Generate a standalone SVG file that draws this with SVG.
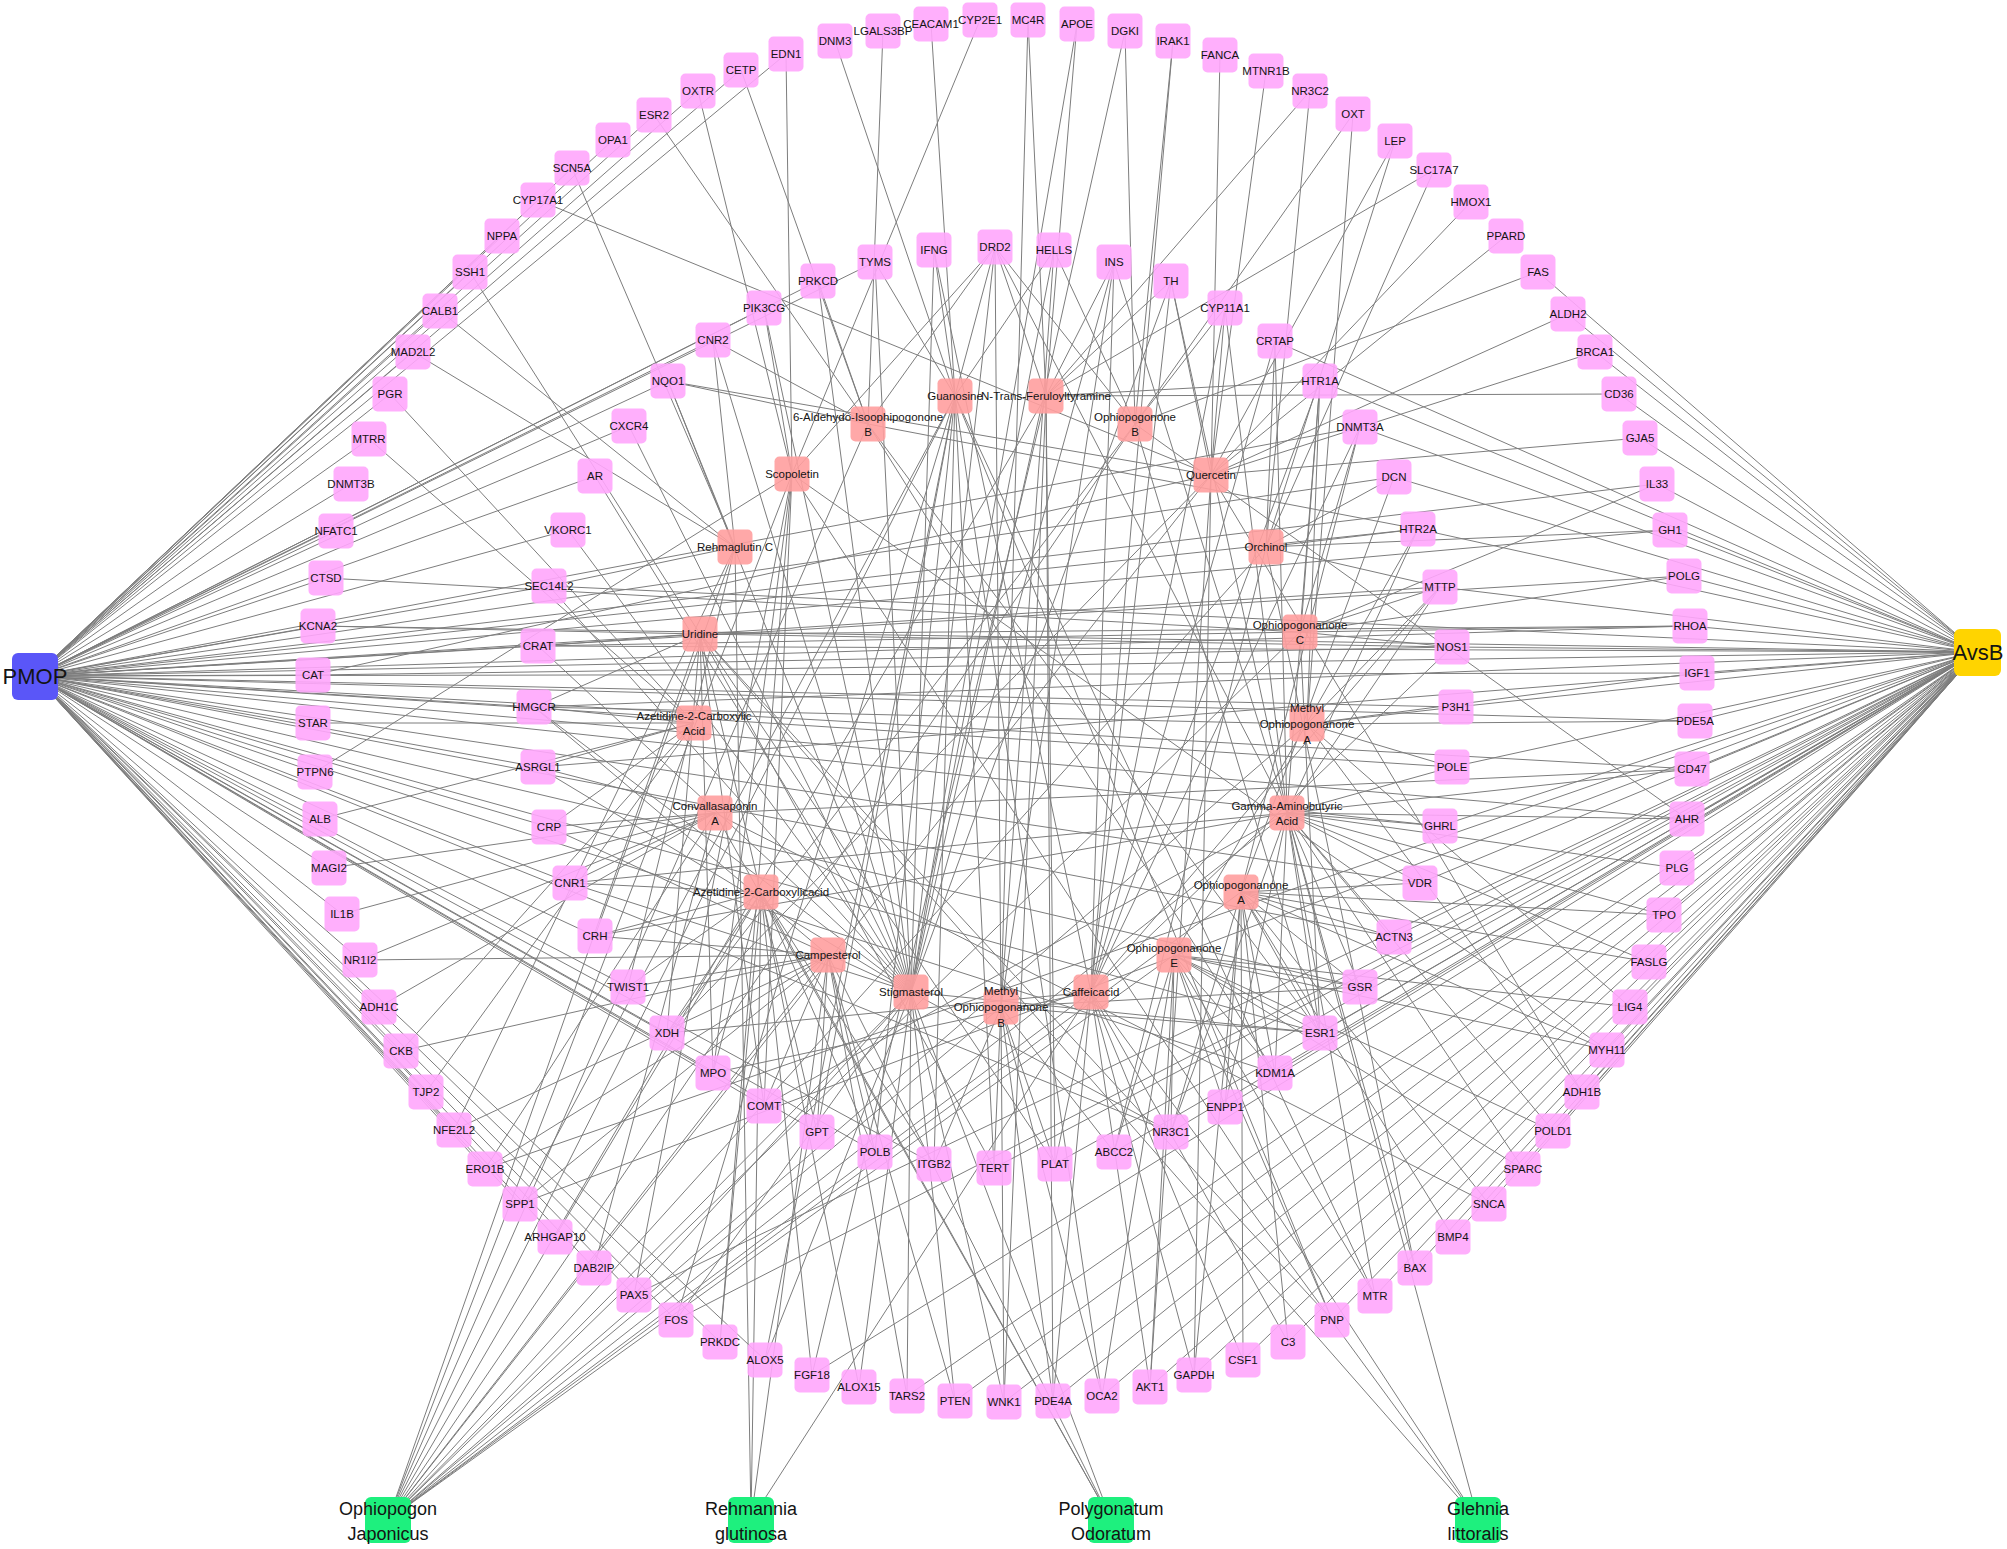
<svg xmlns="http://www.w3.org/2000/svg" width="2007" height="1549" viewBox="0 0 2007 1549">
<style>
.e{stroke:#7d7d7d;stroke-width:1;fill:none}
.t rect{fill:#FFA6FC;fill-opacity:.9}
.c rect{fill:#FF9E9E;fill-opacity:.9}
text{font-family:"Liberation Sans",Arial,sans-serif;font-size:11.5px;fill:#141414;text-anchor:middle}
.big{font-size:22px}
.herb{font-size:18px}
</style>
<rect width="2007" height="1549" fill="#fff"/>
<g id="connectors">
<path class="e" d="M35 676L786 54M35 676L741 70M35 676L698 91M35 676L654 115M35 676L613 140M35 676L572 168M35 676L538 200M35 676L502 236M35 676L470 272M35 676L440 311M35 676L413 352M35 676L390 394M35 676L369 439M35 676L351 484M35 676L336 531M35 676L326 578M35 676L318 626M35 676L313 675M35 676L313 723M35 676L315 772M35 676L320 819M35 676L329 868M35 676L342 914M35 676L360 960M35 676L379 1007M35 676L401 1051M35 676L426 1092M35 676L454 1130M35 676L485 1169M35 676L520 1204M35 676L555 1237M35 676L594 1268M35 676L634 1295M35 676L676 1320M35 676L720 1342M35 676L765 1360M35 676L764 308M35 676L713 340M35 676L668 381M35 676L629 426M35 676L595 476M35 676L568 530M35 676L549 586M35 676L538 646M35 676L534 707M35 676L538 767M35 676L549 827M35 676L570 883M35 676L595 936M35 676L628 987M35 676L667 1033M35 676L713 1073M35 676L764 1106M35 676L817 1132M35 676L818 281M35 676L875 262M35 676L1418 529M35 676L1440 587M35 676L1452 647M35 676L1456 707M35 676L1452 767M35 676L1440 826M35 676L1420 883M35 676L1690 626M35 676L1697 673M35 676L1684 576M35 676L1670 530M35 676L1695 721M35 676L1692 769M35 676L1394 477M35 676L1394 937M35 676L1360 987M35 676L1320 1033M35 676L1275 1073M35 676L1171 1132M35 676L875 1152M35 676L934 1164M35 676L1360 427M35 676L1687 819M35 676L1657 484"/>
<path class="e" d="M1977 652L1538 272M1977 652L1568 314M1977 652L1595 352M1977 652L1619 394M1977 652L1640 438M1977 652L1657 484M1977 652L1670 530M1977 652L1684 576M1977 652L1690 626M1977 652L1697 673M1977 652L1695 721M1977 652L1692 769M1977 652L1687 819M1977 652L1677 868M1977 652L1664 915M1977 652L1649 962M1977 652L1630 1007M1977 652L1607 1050M1977 652L1582 1092M1977 652L1553 1131M1977 652L1523 1169M1977 652L1489 1204M1977 652L1453 1237M1977 652L1415 1268M1977 652L1375 1296M1977 652L1332 1320M1977 652L1288 1342M1977 652L1243 1360M1977 652L1194 1375M1977 652L1150 1387M1977 652L1102 1396M1977 652L1053 1401M1977 652L1004 1402M1977 652L955 1401M1977 652L907 1396M1977 652L812 1375M1977 652L676 1320M1977 652L634 1295M1977 652L520 1204M1977 652L485 1169M1977 652L1275 341M1977 652L1320 381M1977 652L1360 427M1977 652L1394 477M1977 652L1418 529M1977 652L1440 587M1977 652L1452 647M1977 652L1456 707M1977 652L1452 767M1977 652L1440 826M1977 652L1420 883M1977 652L1394 937M1977 652L1360 987M1977 652L1320 1033M1977 652L1275 1073M1977 652L1225 1107M1977 652L1171 1132M1977 652L1114 1152M1977 652L1055 1164M1977 652L994 1168M1977 652L538 646M1977 652L534 707M1977 652L549 586M1977 652L318 626M1977 652L313 675M1977 652L538 767"/>
<path class="e" d="M955 396L995 247M955 396L1054 250M955 396L934 250M955 396L875 262M955 396L835 41M955 396L931 24M955 396L875 1152M955 396L934 1164M955 396L994 1168M955 396L1332 1320M955 396L1102 1396M955 396L1375 1296M955 396L765 1360M955 396L676 1320M955 396L817 1132M955 396L520 1204"/>
<path class="e" d="M1046 396L995 247M1046 396L1028 20M1046 396L1077 24M1046 396L1320 381M1046 396L1171 281M1046 396L1114 262M1046 396L1055 1164M1046 396L1004 1402M1046 396L1053 1401M1046 396L1619 394M1046 396L1434 170M1046 396L1310 91M1046 396L812 1375"/>
<path class="e" d="M868 424L818 281M868 424L883 31M868 424L713 340M868 424L668 381M868 424L1320 1033M868 424L1275 1073M868 424L1418 529M868 424L654 115M868 424L741 70M868 424L995 247"/>
<path class="e" d="M1135 424L1125 31M1135 424L1054 250M1135 424L1353 114M1135 424L1173 41M1135 424L1320 1033M1135 424L1225 308M1135 424L1687 819M1135 424L1538 272M1135 424L667 1033M1135 424L995 247"/>
<path class="e" d="M792 474L764 308M792 474L698 91M792 474L786 54M792 474L713 1073M792 474L764 1106M792 474L634 1295M792 474L995 247M792 474L980 20M792 474L1607 1050M792 474L315 772M792 474L720 1342"/>
<path class="e" d="M1211 475L1171 281M1211 475L1225 308M1211 475L1395 141M1211 475L1471 202M1211 475L1506 236M1211 475L1568 314M1211 475L1595 352M1211 475L1640 438M1211 475L667 1033M1211 475L1150 1387M1211 475L313 675M1211 475L668 381M1211 475L538 200M1211 475L1220 55M1211 475L1266 71M1211 475L1194 1375M1211 475L1582 1092"/>
<path class="e" d="M735 547L713 340M735 547L549 586M735 547L668 381M735 547L413 352M735 547L440 311M735 547L595 936M735 547L628 987M735 547L454 1130M735 547L572 168"/>
<path class="e" d="M1266 547L1275 341M1266 547L1394 477M1266 547L1418 529M1266 547L1440 587M1266 547L1670 530M1266 547L1395 141M1266 547L1310 91M1266 547L1114 1152M1266 547L1415 1268M1266 547L1434 170"/>
<path class="e" d="M700 634L538 646M700 634L534 707M700 634L667 1033M700 634L713 1073M700 634L994 1168M700 634L1055 1164M700 634L764 1106M700 634L817 1132M700 634L1332 1320M700 634L470 272M700 634L318 626M700 634L1452 647M700 634L1690 626"/>
<path class="e" d="M1300 632L1452 647M1300 632L1440 587M1300 632L1690 626M1300 632L1684 576M1300 632L1657 484M1300 632L1360 427M1300 632L538 646M1300 632L326 578M1300 632L1320 1033M1300 632L1320 381"/>
<path class="e" d="M694 723L534 707M694 723L538 767M694 723L549 827M694 723L313 723M694 723L426 1092M694 723L401 1051M694 723L320 819M694 723L390 394M694 723L369 439"/>
<path class="e" d="M1307 724L1456 707M1307 724L1452 767M1307 724L1440 587M1307 724L1697 673M1307 724L1695 721M1307 724L1320 381M1307 724L1353 114M1307 724L1582 1092M1307 724L1630 1007M1307 724L534 707"/>
<path class="e" d="M715 813L549 827M715 813L570 883M715 813L538 767M715 813L342 914M715 813L329 868M715 813L379 1007M715 813L360 960M715 813L485 1169M715 813L594 1268M715 813L1489 1204M715 813L1692 769"/>
<path class="e" d="M1287 813L1440 826M1287 813L1420 883M1287 813L1394 937M1287 813L1360 987M1287 813L1452 767M1287 813L1440 587M1287 813L1692 769M1287 813L1687 819M1287 813L1677 868M1287 813L1664 915M1287 813L1649 962M1287 813L1320 381M1287 813L1418 529M1287 813L995 247M1287 813L1275 341M1287 813L1225 308M1287 813L1320 1033M1287 813L1275 1073M1287 813L1225 1107M1287 813L1171 1132M1287 813L1415 1268M1287 813L1375 1296M1287 813L1553 1131M1287 813L1523 1169M1287 813L570 883M1287 813L764 1106M1287 813L595 936M1287 813L1171 281M1287 813L1114 262"/>
<path class="e" d="M761 892L570 883M761 892L595 936M761 892L628 987M761 892L667 1033M761 892L713 1073M761 892L555 1237M761 892L720 1342M761 892L812 1375M761 892L859 1387M761 892L934 1164M761 892L875 1152"/>
<path class="e" d="M1241 892L1420 883M1241 892L1394 937M1241 892L1360 987M1241 892L1320 1033M1241 892L1275 1073M1241 892L1225 1107M1241 892L1171 1132M1241 892L1243 1360M1241 892L1288 1342M1241 892L1194 1375M1241 892L1489 1204M1241 892L1453 1237M1241 892L1649 962M1241 892L1664 915M1241 892L1360 427M1241 892L1394 477M1241 892L1607 1050"/>
<path class="e" d="M828 955L595 936M828 955L628 987M828 955L534 707M828 955L360 960M828 955L454 1130M828 955L485 1169M828 955L520 1204M828 955L764 1106M828 955L817 1132M828 955L875 1152M828 955L955 1401M828 955L907 1396M828 955L401 1051"/>
<path class="e" d="M1174 955L1320 1033M1174 955L1360 987M1174 955L1171 1132M1174 955L1225 1107M1174 955L1275 1073M1174 955L1114 1152M1174 955L1150 1387M1174 955L1102 1396M1174 955L1375 1296M1174 955L1332 1320M1174 955L1523 1169M1174 955L1553 1131M1174 955L1607 1050M1174 955L1418 529M1174 955L1630 1007"/>
<path class="e" d="M911 992L995 247M911 992L1054 250M911 992L934 250M911 992L875 262M911 992L818 281M911 992L764 308M911 992L713 340M911 992L668 381M911 992L629 426M911 992L595 476M911 992L568 530M911 992L549 586M911 992L538 646M911 992L534 707M911 992L538 767M911 992L549 827M911 992L570 883M911 992L1171 1132M911 992L1320 1033M911 992L955 1401M911 992L1004 1402M911 992L907 1396M911 992L859 1387M911 992L765 1360M911 992L676 1320M911 992L634 1295M911 992L1114 262M911 992L1171 281M911 992L1125 31M911 992L1077 24"/>
<path class="e" d="M1001 1007L995 247M1001 1007L1054 250M1001 1007L1114 262M1001 1007L994 1168M1001 1007L1055 1164M1001 1007L1114 1152M1001 1007L934 1164M1001 1007L1004 1402M1001 1007L1053 1401M1001 1007L1102 1396M1001 1007L1320 1033M1001 1007L1360 987M1001 1007L1028 20"/>
<path class="e" d="M1091 992L1114 262M1091 992L1171 281M1091 992L1225 308M1091 992L1275 341M1091 992L1320 381M1091 992L1360 427M1091 992L1150 1387M1091 992L1194 1375M1091 992L1243 1360M1091 992L1288 1342M1091 992L1053 1401M1091 992L1055 1164M1091 992L667 1033M1091 992L713 1073M1091 992L1440 587M1091 992L1452 647M1091 992L934 250M1091 992L1173 41"/>
<path class="e" d="M388 1520L868 424M388 1520L1135 424M388 1520L955 396M388 1520L1046 396M388 1520L792 474M388 1520L1211 475M388 1520L1266 547M388 1520L1300 632M388 1520L1307 724M388 1520L1287 813M388 1520L1241 892M388 1520L828 955M388 1520L1174 955M388 1520L911 992M388 1520L1001 1007M388 1520L1091 992M388 1520L700 634"/>
<path class="e" d="M751 1520L735 547M751 1520L828 955M751 1520L1091 992M751 1520L761 892"/>
<path class="e" d="M1111 1520L911 992M1111 1520L828 955M1111 1520L715 813M1111 1520L761 892"/>
<path class="e" d="M1478 1520L1287 813M1478 1520L1091 992M1478 1520L792 474M1478 1520L700 634"/>
</g>
<g id="targets">
<g id="t-DNM3" class="t" transform="translate(835 41)"><rect x="-17.5" y="-17.5" width="35" height="35" rx="5"/><text y="4">DNM3</text></g>
<g id="t-LGALS3BP" class="t" transform="translate(883 31)"><rect x="-17.5" y="-17.5" width="35" height="35" rx="5"/><text y="4">LGALS3BP</text></g>
<g id="t-CEACAM1" class="t" transform="translate(931 24)"><rect x="-17.5" y="-17.5" width="35" height="35" rx="5"/><text y="4">CEACAM1</text></g>
<g id="t-CYP2E1" class="t" transform="translate(980 20)"><rect x="-17.5" y="-17.5" width="35" height="35" rx="5"/><text y="4">CYP2E1</text></g>
<g id="t-MC4R" class="t" transform="translate(1028 20)"><rect x="-17.5" y="-17.5" width="35" height="35" rx="5"/><text y="4">MC4R</text></g>
<g id="t-APOE" class="t" transform="translate(1077 24)"><rect x="-17.5" y="-17.5" width="35" height="35" rx="5"/><text y="4">APOE</text></g>
<g id="t-DGKI" class="t" transform="translate(1125 31)"><rect x="-17.5" y="-17.5" width="35" height="35" rx="5"/><text y="4">DGKI</text></g>
<g id="t-IRAK1" class="t" transform="translate(1173 41)"><rect x="-17.5" y="-17.5" width="35" height="35" rx="5"/><text y="4">IRAK1</text></g>
<g id="t-FANCA" class="t" transform="translate(1220 55)"><rect x="-17.5" y="-17.5" width="35" height="35" rx="5"/><text y="4">FANCA</text></g>
<g id="t-MTNR1B" class="t" transform="translate(1266 71)"><rect x="-17.5" y="-17.5" width="35" height="35" rx="5"/><text y="4">MTNR1B</text></g>
<g id="t-NR3C2" class="t" transform="translate(1310 91)"><rect x="-17.5" y="-17.5" width="35" height="35" rx="5"/><text y="4">NR3C2</text></g>
<g id="t-OXT" class="t" transform="translate(1353 114)"><rect x="-17.5" y="-17.5" width="35" height="35" rx="5"/><text y="4">OXT</text></g>
<g id="t-LEP" class="t" transform="translate(1395 141)"><rect x="-17.5" y="-17.5" width="35" height="35" rx="5"/><text y="4">LEP</text></g>
<g id="t-SLC17A7" class="t" transform="translate(1434 170)"><rect x="-17.5" y="-17.5" width="35" height="35" rx="5"/><text y="4">SLC17A7</text></g>
<g id="t-HMOX1" class="t" transform="translate(1471 202)"><rect x="-17.5" y="-17.5" width="35" height="35" rx="5"/><text y="4">HMOX1</text></g>
<g id="t-PPARD" class="t" transform="translate(1506 236)"><rect x="-17.5" y="-17.5" width="35" height="35" rx="5"/><text y="4">PPARD</text></g>
<g id="t-FAS" class="t" transform="translate(1538 272)"><rect x="-17.5" y="-17.5" width="35" height="35" rx="5"/><text y="4">FAS</text></g>
<g id="t-ALDH2" class="t" transform="translate(1568 314)"><rect x="-17.5" y="-17.5" width="35" height="35" rx="5"/><text y="4">ALDH2</text></g>
<g id="t-BRCA1" class="t" transform="translate(1595 352)"><rect x="-17.5" y="-17.5" width="35" height="35" rx="5"/><text y="4">BRCA1</text></g>
<g id="t-CD36" class="t" transform="translate(1619 394)"><rect x="-17.5" y="-17.5" width="35" height="35" rx="5"/><text y="4">CD36</text></g>
<g id="t-GJA5" class="t" transform="translate(1640 438)"><rect x="-17.5" y="-17.5" width="35" height="35" rx="5"/><text y="4">GJA5</text></g>
<g id="t-IL33" class="t" transform="translate(1657 484)"><rect x="-17.5" y="-17.5" width="35" height="35" rx="5"/><text y="4">IL33</text></g>
<g id="t-GH1" class="t" transform="translate(1670 530)"><rect x="-17.5" y="-17.5" width="35" height="35" rx="5"/><text y="4">GH1</text></g>
<g id="t-POLG" class="t" transform="translate(1684 576)"><rect x="-17.5" y="-17.5" width="35" height="35" rx="5"/><text y="4">POLG</text></g>
<g id="t-RHOA" class="t" transform="translate(1690 626)"><rect x="-17.5" y="-17.5" width="35" height="35" rx="5"/><text y="4">RHOA</text></g>
<g id="t-IGF1" class="t" transform="translate(1697 673)"><rect x="-17.5" y="-17.5" width="35" height="35" rx="5"/><text y="4">IGF1</text></g>
<g id="t-PDE5A" class="t" transform="translate(1695 721)"><rect x="-17.5" y="-17.5" width="35" height="35" rx="5"/><text y="4">PDE5A</text></g>
<g id="t-CD47" class="t" transform="translate(1692 769)"><rect x="-17.5" y="-17.5" width="35" height="35" rx="5"/><text y="4">CD47</text></g>
<g id="t-AHR" class="t" transform="translate(1687 819)"><rect x="-17.5" y="-17.5" width="35" height="35" rx="5"/><text y="4">AHR</text></g>
<g id="t-PLG" class="t" transform="translate(1677 868)"><rect x="-17.5" y="-17.5" width="35" height="35" rx="5"/><text y="4">PLG</text></g>
<g id="t-TPO" class="t" transform="translate(1664 915)"><rect x="-17.5" y="-17.5" width="35" height="35" rx="5"/><text y="4">TPO</text></g>
<g id="t-FASLG" class="t" transform="translate(1649 962)"><rect x="-17.5" y="-17.5" width="35" height="35" rx="5"/><text y="4">FASLG</text></g>
<g id="t-LIG4" class="t" transform="translate(1630 1007)"><rect x="-17.5" y="-17.5" width="35" height="35" rx="5"/><text y="4">LIG4</text></g>
<g id="t-MYH11" class="t" transform="translate(1607 1050)"><rect x="-17.5" y="-17.5" width="35" height="35" rx="5"/><text y="4">MYH11</text></g>
<g id="t-ADH1B" class="t" transform="translate(1582 1092)"><rect x="-17.5" y="-17.5" width="35" height="35" rx="5"/><text y="4">ADH1B</text></g>
<g id="t-POLD1" class="t" transform="translate(1553 1131)"><rect x="-17.5" y="-17.5" width="35" height="35" rx="5"/><text y="4">POLD1</text></g>
<g id="t-SPARC" class="t" transform="translate(1523 1169)"><rect x="-17.5" y="-17.5" width="35" height="35" rx="5"/><text y="4">SPARC</text></g>
<g id="t-SNCA" class="t" transform="translate(1489 1204)"><rect x="-17.5" y="-17.5" width="35" height="35" rx="5"/><text y="4">SNCA</text></g>
<g id="t-BMP4" class="t" transform="translate(1453 1237)"><rect x="-17.5" y="-17.5" width="35" height="35" rx="5"/><text y="4">BMP4</text></g>
<g id="t-BAX" class="t" transform="translate(1415 1268)"><rect x="-17.5" y="-17.5" width="35" height="35" rx="5"/><text y="4">BAX</text></g>
<g id="t-MTR" class="t" transform="translate(1375 1296)"><rect x="-17.5" y="-17.5" width="35" height="35" rx="5"/><text y="4">MTR</text></g>
<g id="t-PNP" class="t" transform="translate(1332 1320)"><rect x="-17.5" y="-17.5" width="35" height="35" rx="5"/><text y="4">PNP</text></g>
<g id="t-C3" class="t" transform="translate(1288 1342)"><rect x="-17.5" y="-17.5" width="35" height="35" rx="5"/><text y="4">C3</text></g>
<g id="t-CSF1" class="t" transform="translate(1243 1360)"><rect x="-17.5" y="-17.5" width="35" height="35" rx="5"/><text y="4">CSF1</text></g>
<g id="t-GAPDH" class="t" transform="translate(1194 1375)"><rect x="-17.5" y="-17.5" width="35" height="35" rx="5"/><text y="4">GAPDH</text></g>
<g id="t-AKT1" class="t" transform="translate(1150 1387)"><rect x="-17.5" y="-17.5" width="35" height="35" rx="5"/><text y="4">AKT1</text></g>
<g id="t-OCA2" class="t" transform="translate(1102 1396)"><rect x="-17.5" y="-17.5" width="35" height="35" rx="5"/><text y="4">OCA2</text></g>
<g id="t-PDE4A" class="t" transform="translate(1053 1401)"><rect x="-17.5" y="-17.5" width="35" height="35" rx="5"/><text y="4">PDE4A</text></g>
<g id="t-WNK1" class="t" transform="translate(1004 1402)"><rect x="-17.5" y="-17.5" width="35" height="35" rx="5"/><text y="4">WNK1</text></g>
<g id="t-PTEN" class="t" transform="translate(955 1401)"><rect x="-17.5" y="-17.5" width="35" height="35" rx="5"/><text y="4">PTEN</text></g>
<g id="t-TARS2" class="t" transform="translate(907 1396)"><rect x="-17.5" y="-17.5" width="35" height="35" rx="5"/><text y="4">TARS2</text></g>
<g id="t-ALOX15" class="t" transform="translate(859 1387)"><rect x="-17.5" y="-17.5" width="35" height="35" rx="5"/><text y="4">ALOX15</text></g>
<g id="t-FGF18" class="t" transform="translate(812 1375)"><rect x="-17.5" y="-17.5" width="35" height="35" rx="5"/><text y="4">FGF18</text></g>
<g id="t-ALOX5" class="t" transform="translate(765 1360)"><rect x="-17.5" y="-17.5" width="35" height="35" rx="5"/><text y="4">ALOX5</text></g>
<g id="t-PRKDC" class="t" transform="translate(720 1342)"><rect x="-17.5" y="-17.5" width="35" height="35" rx="5"/><text y="4">PRKDC</text></g>
<g id="t-FOS" class="t" transform="translate(676 1320)"><rect x="-17.5" y="-17.5" width="35" height="35" rx="5"/><text y="4">FOS</text></g>
<g id="t-PAX5" class="t" transform="translate(634 1295)"><rect x="-17.5" y="-17.5" width="35" height="35" rx="5"/><text y="4">PAX5</text></g>
<g id="t-DAB2IP" class="t" transform="translate(594 1268)"><rect x="-17.5" y="-17.5" width="35" height="35" rx="5"/><text y="4">DAB2IP</text></g>
<g id="t-ARHGAP10" class="t" transform="translate(555 1237)"><rect x="-17.5" y="-17.5" width="35" height="35" rx="5"/><text y="4">ARHGAP10</text></g>
<g id="t-SPP1" class="t" transform="translate(520 1204)"><rect x="-17.5" y="-17.5" width="35" height="35" rx="5"/><text y="4">SPP1</text></g>
<g id="t-ERO1B" class="t" transform="translate(485 1169)"><rect x="-17.5" y="-17.5" width="35" height="35" rx="5"/><text y="4">ERO1B</text></g>
<g id="t-NFE2L2" class="t" transform="translate(454 1130)"><rect x="-17.5" y="-17.5" width="35" height="35" rx="5"/><text y="4">NFE2L2</text></g>
<g id="t-TJP2" class="t" transform="translate(426 1092)"><rect x="-17.5" y="-17.5" width="35" height="35" rx="5"/><text y="4">TJP2</text></g>
<g id="t-CKB" class="t" transform="translate(401 1051)"><rect x="-17.5" y="-17.5" width="35" height="35" rx="5"/><text y="4">CKB</text></g>
<g id="t-ADH1C" class="t" transform="translate(379 1007)"><rect x="-17.5" y="-17.5" width="35" height="35" rx="5"/><text y="4">ADH1C</text></g>
<g id="t-NR1I2" class="t" transform="translate(360 960)"><rect x="-17.5" y="-17.5" width="35" height="35" rx="5"/><text y="4">NR1I2</text></g>
<g id="t-IL1B" class="t" transform="translate(342 914)"><rect x="-17.5" y="-17.5" width="35" height="35" rx="5"/><text y="4">IL1B</text></g>
<g id="t-MAGI2" class="t" transform="translate(329 868)"><rect x="-17.5" y="-17.5" width="35" height="35" rx="5"/><text y="4">MAGI2</text></g>
<g id="t-ALB" class="t" transform="translate(320 819)"><rect x="-17.5" y="-17.5" width="35" height="35" rx="5"/><text y="4">ALB</text></g>
<g id="t-PTPN6" class="t" transform="translate(315 772)"><rect x="-17.5" y="-17.5" width="35" height="35" rx="5"/><text y="4">PTPN6</text></g>
<g id="t-STAR" class="t" transform="translate(313 723)"><rect x="-17.5" y="-17.5" width="35" height="35" rx="5"/><text y="4">STAR</text></g>
<g id="t-CAT" class="t" transform="translate(313 675)"><rect x="-17.5" y="-17.5" width="35" height="35" rx="5"/><text y="4">CAT</text></g>
<g id="t-KCNA2" class="t" transform="translate(318 626)"><rect x="-17.5" y="-17.5" width="35" height="35" rx="5"/><text y="4">KCNA2</text></g>
<g id="t-CTSD" class="t" transform="translate(326 578)"><rect x="-17.5" y="-17.5" width="35" height="35" rx="5"/><text y="4">CTSD</text></g>
<g id="t-NFATC1" class="t" transform="translate(336 531)"><rect x="-17.5" y="-17.5" width="35" height="35" rx="5"/><text y="4">NFATC1</text></g>
<g id="t-DNMT3B" class="t" transform="translate(351 484)"><rect x="-17.5" y="-17.5" width="35" height="35" rx="5"/><text y="4">DNMT3B</text></g>
<g id="t-MTRR" class="t" transform="translate(369 439)"><rect x="-17.5" y="-17.5" width="35" height="35" rx="5"/><text y="4">MTRR</text></g>
<g id="t-PGR" class="t" transform="translate(390 394)"><rect x="-17.5" y="-17.5" width="35" height="35" rx="5"/><text y="4">PGR</text></g>
<g id="t-MAD2L2" class="t" transform="translate(413 352)"><rect x="-17.5" y="-17.5" width="35" height="35" rx="5"/><text y="4">MAD2L2</text></g>
<g id="t-CALB1" class="t" transform="translate(440 311)"><rect x="-17.5" y="-17.5" width="35" height="35" rx="5"/><text y="4">CALB1</text></g>
<g id="t-SSH1" class="t" transform="translate(470 272)"><rect x="-17.5" y="-17.5" width="35" height="35" rx="5"/><text y="4">SSH1</text></g>
<g id="t-NPPA" class="t" transform="translate(502 236)"><rect x="-17.5" y="-17.5" width="35" height="35" rx="5"/><text y="4">NPPA</text></g>
<g id="t-CYP17A1" class="t" transform="translate(538 200)"><rect x="-17.5" y="-17.5" width="35" height="35" rx="5"/><text y="4">CYP17A1</text></g>
<g id="t-SCN5A" class="t" transform="translate(572 168)"><rect x="-17.5" y="-17.5" width="35" height="35" rx="5"/><text y="4">SCN5A</text></g>
<g id="t-OPA1" class="t" transform="translate(613 140)"><rect x="-17.5" y="-17.5" width="35" height="35" rx="5"/><text y="4">OPA1</text></g>
<g id="t-ESR2" class="t" transform="translate(654 115)"><rect x="-17.5" y="-17.5" width="35" height="35" rx="5"/><text y="4">ESR2</text></g>
<g id="t-OXTR" class="t" transform="translate(698 91)"><rect x="-17.5" y="-17.5" width="35" height="35" rx="5"/><text y="4">OXTR</text></g>
<g id="t-CETP" class="t" transform="translate(741 70)"><rect x="-17.5" y="-17.5" width="35" height="35" rx="5"/><text y="4">CETP</text></g>
<g id="t-EDN1" class="t" transform="translate(786 54)"><rect x="-17.5" y="-17.5" width="35" height="35" rx="5"/><text y="4">EDN1</text></g>
<g id="t-DRD2" class="t" transform="translate(995 247)"><rect x="-17.5" y="-17.5" width="35" height="35" rx="5"/><text y="4">DRD2</text></g>
<g id="t-HELLS" class="t" transform="translate(1054 250)"><rect x="-17.5" y="-17.5" width="35" height="35" rx="5"/><text y="4">HELLS</text></g>
<g id="t-IFNG" class="t" transform="translate(934 250)"><rect x="-17.5" y="-17.5" width="35" height="35" rx="5"/><text y="4">IFNG</text></g>
<g id="t-TYMS" class="t" transform="translate(875 262)"><rect x="-17.5" y="-17.5" width="35" height="35" rx="5"/><text y="4">TYMS</text></g>
<g id="t-INS" class="t" transform="translate(1114 262)"><rect x="-17.5" y="-17.5" width="35" height="35" rx="5"/><text y="4">INS</text></g>
<g id="t-PRKCD" class="t" transform="translate(818 281)"><rect x="-17.5" y="-17.5" width="35" height="35" rx="5"/><text y="4">PRKCD</text></g>
<g id="t-TH" class="t" transform="translate(1171 281)"><rect x="-17.5" y="-17.5" width="35" height="35" rx="5"/><text y="4">TH</text></g>
<g id="t-PIK3CG" class="t" transform="translate(764 308)"><rect x="-17.5" y="-17.5" width="35" height="35" rx="5"/><text y="4">PIK3CG</text></g>
<g id="t-CYP11A1" class="t" transform="translate(1225 308)"><rect x="-17.5" y="-17.5" width="35" height="35" rx="5"/><text y="4">CYP11A1</text></g>
<g id="t-CNR2" class="t" transform="translate(713 340)"><rect x="-17.5" y="-17.5" width="35" height="35" rx="5"/><text y="4">CNR2</text></g>
<g id="t-CRTAP" class="t" transform="translate(1275 341)"><rect x="-17.5" y="-17.5" width="35" height="35" rx="5"/><text y="4">CRTAP</text></g>
<g id="t-NQO1" class="t" transform="translate(668 381)"><rect x="-17.5" y="-17.5" width="35" height="35" rx="5"/><text y="4">NQO1</text></g>
<g id="t-HTR1A" class="t" transform="translate(1320 381)"><rect x="-17.5" y="-17.5" width="35" height="35" rx="5"/><text y="4">HTR1A</text></g>
<g id="t-CXCR4" class="t" transform="translate(629 426)"><rect x="-17.5" y="-17.5" width="35" height="35" rx="5"/><text y="4">CXCR4</text></g>
<g id="t-DNMT3A" class="t" transform="translate(1360 427)"><rect x="-17.5" y="-17.5" width="35" height="35" rx="5"/><text y="4">DNMT3A</text></g>
<g id="t-AR" class="t" transform="translate(595 476)"><rect x="-17.5" y="-17.5" width="35" height="35" rx="5"/><text y="4">AR</text></g>
<g id="t-DCN" class="t" transform="translate(1394 477)"><rect x="-17.5" y="-17.5" width="35" height="35" rx="5"/><text y="4">DCN</text></g>
<g id="t-VKORC1" class="t" transform="translate(568 530)"><rect x="-17.5" y="-17.5" width="35" height="35" rx="5"/><text y="4">VKORC1</text></g>
<g id="t-HTR2A" class="t" transform="translate(1418 529)"><rect x="-17.5" y="-17.5" width="35" height="35" rx="5"/><text y="4">HTR2A</text></g>
<g id="t-SEC14L2" class="t" transform="translate(549 586)"><rect x="-17.5" y="-17.5" width="35" height="35" rx="5"/><text y="4">SEC14L2</text></g>
<g id="t-MTTP" class="t" transform="translate(1440 587)"><rect x="-17.5" y="-17.5" width="35" height="35" rx="5"/><text y="4">MTTP</text></g>
<g id="t-CRAT" class="t" transform="translate(538 646)"><rect x="-17.5" y="-17.5" width="35" height="35" rx="5"/><text y="4">CRAT</text></g>
<g id="t-NOS1" class="t" transform="translate(1452 647)"><rect x="-17.5" y="-17.5" width="35" height="35" rx="5"/><text y="4">NOS1</text></g>
<g id="t-HMGCR" class="t" transform="translate(534 707)"><rect x="-17.5" y="-17.5" width="35" height="35" rx="5"/><text y="4">HMGCR</text></g>
<g id="t-P3H1" class="t" transform="translate(1456 707)"><rect x="-17.5" y="-17.5" width="35" height="35" rx="5"/><text y="4">P3H1</text></g>
<g id="t-ASRGL1" class="t" transform="translate(538 767)"><rect x="-17.5" y="-17.5" width="35" height="35" rx="5"/><text y="4">ASRGL1</text></g>
<g id="t-POLE" class="t" transform="translate(1452 767)"><rect x="-17.5" y="-17.5" width="35" height="35" rx="5"/><text y="4">POLE</text></g>
<g id="t-CRP" class="t" transform="translate(549 827)"><rect x="-17.5" y="-17.5" width="35" height="35" rx="5"/><text y="4">CRP</text></g>
<g id="t-GHRL" class="t" transform="translate(1440 826)"><rect x="-17.5" y="-17.5" width="35" height="35" rx="5"/><text y="4">GHRL</text></g>
<g id="t-CNR1" class="t" transform="translate(570 883)"><rect x="-17.5" y="-17.5" width="35" height="35" rx="5"/><text y="4">CNR1</text></g>
<g id="t-VDR" class="t" transform="translate(1420 883)"><rect x="-17.5" y="-17.5" width="35" height="35" rx="5"/><text y="4">VDR</text></g>
<g id="t-CRH" class="t" transform="translate(595 936)"><rect x="-17.5" y="-17.5" width="35" height="35" rx="5"/><text y="4">CRH</text></g>
<g id="t-ACTN3" class="t" transform="translate(1394 937)"><rect x="-17.5" y="-17.5" width="35" height="35" rx="5"/><text y="4">ACTN3</text></g>
<g id="t-TWIST1" class="t" transform="translate(628 987)"><rect x="-17.5" y="-17.5" width="35" height="35" rx="5"/><text y="4">TWIST1</text></g>
<g id="t-GSR" class="t" transform="translate(1360 987)"><rect x="-17.5" y="-17.5" width="35" height="35" rx="5"/><text y="4">GSR</text></g>
<g id="t-XDH" class="t" transform="translate(667 1033)"><rect x="-17.5" y="-17.5" width="35" height="35" rx="5"/><text y="4">XDH</text></g>
<g id="t-ESR1" class="t" transform="translate(1320 1033)"><rect x="-17.5" y="-17.5" width="35" height="35" rx="5"/><text y="4">ESR1</text></g>
<g id="t-MPO" class="t" transform="translate(713 1073)"><rect x="-17.5" y="-17.5" width="35" height="35" rx="5"/><text y="4">MPO</text></g>
<g id="t-KDM1A" class="t" transform="translate(1275 1073)"><rect x="-17.5" y="-17.5" width="35" height="35" rx="5"/><text y="4">KDM1A</text></g>
<g id="t-COMT" class="t" transform="translate(764 1106)"><rect x="-17.5" y="-17.5" width="35" height="35" rx="5"/><text y="4">COMT</text></g>
<g id="t-ENPP1" class="t" transform="translate(1225 1107)"><rect x="-17.5" y="-17.5" width="35" height="35" rx="5"/><text y="4">ENPP1</text></g>
<g id="t-GPT" class="t" transform="translate(817 1132)"><rect x="-17.5" y="-17.5" width="35" height="35" rx="5"/><text y="4">GPT</text></g>
<g id="t-NR3C1" class="t" transform="translate(1171 1132)"><rect x="-17.5" y="-17.5" width="35" height="35" rx="5"/><text y="4">NR3C1</text></g>
<g id="t-POLB" class="t" transform="translate(875 1152)"><rect x="-17.5" y="-17.5" width="35" height="35" rx="5"/><text y="4">POLB</text></g>
<g id="t-ABCC2" class="t" transform="translate(1114 1152)"><rect x="-17.5" y="-17.5" width="35" height="35" rx="5"/><text y="4">ABCC2</text></g>
<g id="t-ITGB2" class="t" transform="translate(934 1164)"><rect x="-17.5" y="-17.5" width="35" height="35" rx="5"/><text y="4">ITGB2</text></g>
<g id="t-PLAT" class="t" transform="translate(1055 1164)"><rect x="-17.5" y="-17.5" width="35" height="35" rx="5"/><text y="4">PLAT</text></g>
<g id="t-TERT" class="t" transform="translate(994 1168)"><rect x="-17.5" y="-17.5" width="35" height="35" rx="5"/><text y="4">TERT</text></g>
</g>
<g id="compounds">
<g id="c-guanosine" class="c" transform="translate(955 396)"><rect x="-17.5" y="-17.5" width="35" height="35" rx="5"/><text y="4">Guanosine</text></g>
<g id="c-ntrans" class="c" transform="translate(1046 396)"><rect x="-17.5" y="-17.5" width="35" height="35" rx="5"/><text y="4">N-Trans-Feruloyltyramine</text></g>
<g id="c-aldehydo" class="c" transform="translate(868 424)"><rect x="-17.5" y="-17.5" width="35" height="35" rx="5"/><text><tspan x="0" y="-3.5">6-Aldehydo-Isoophipogonone</tspan><tspan x="0" y="11.5">B</tspan></text></g>
<g id="c-ophiopogononeB" class="c" transform="translate(1135 424)"><rect x="-17.5" y="-17.5" width="35" height="35" rx="5"/><text><tspan x="0" y="-3.5">Ophiopogonone</tspan><tspan x="0" y="11.5">B</tspan></text></g>
<g id="c-scopoletin" class="c" transform="translate(792 474)"><rect x="-17.5" y="-17.5" width="35" height="35" rx="5"/><text y="4">Scopoletin</text></g>
<g id="c-quercetin" class="c" transform="translate(1211 475)"><rect x="-17.5" y="-17.5" width="35" height="35" rx="5"/><text y="4">Quercetin</text></g>
<g id="c-rehmaglutin" class="c" transform="translate(735 547)"><rect x="-17.5" y="-17.5" width="35" height="35" rx="5"/><text y="4">Rehmaglutin C</text></g>
<g id="c-orchinol" class="c" transform="translate(1266 547)"><rect x="-17.5" y="-17.5" width="35" height="35" rx="5"/><text y="4">Orchinol</text></g>
<g id="c-uridine" class="c" transform="translate(700 634)"><rect x="-17.5" y="-17.5" width="35" height="35" rx="5"/><text y="4">Uridine</text></g>
<g id="c-ophiopogonanoneC" class="c" transform="translate(1300 632)"><rect x="-17.5" y="-17.5" width="35" height="35" rx="5"/><text><tspan x="0" y="-3.5">Ophiopogonanone</tspan><tspan x="0" y="11.5">C</tspan></text></g>
<g id="c-azetidine-acid" class="c" transform="translate(694 723)"><rect x="-17.5" y="-17.5" width="35" height="35" rx="5"/><text><tspan x="0" y="-3.5">Azetidine-2-Carboxylic</tspan><tspan x="0" y="11.5">Acid</tspan></text></g>
<g id="c-methylA" class="c" transform="translate(1307 724)"><rect x="-17.5" y="-17.5" width="35" height="35" rx="5"/><text><tspan x="0" y="-12">Methyl</tspan><tspan x="0" y="4">Ophiopogonanone</tspan><tspan x="0" y="20">A</tspan></text></g>
<g id="c-convallasaponin" class="c" transform="translate(715 813)"><rect x="-17.5" y="-17.5" width="35" height="35" rx="5"/><text><tspan x="0" y="-3.5">Convallasaponin</tspan><tspan x="0" y="11.5">A</tspan></text></g>
<g id="c-gaba" class="c" transform="translate(1287 813)"><rect x="-17.5" y="-17.5" width="35" height="35" rx="5"/><text><tspan x="0" y="-3.5">Gamma-Aminobutyric</tspan><tspan x="0" y="11.5">Acid</tspan></text></g>
<g id="c-azetidine-acid2" class="c" transform="translate(761 892)"><rect x="-17.5" y="-17.5" width="35" height="35" rx="5"/><text y="4">Azetidine-2-Carboxylicacid</text></g>
<g id="c-ophiopogonanoneA" class="c" transform="translate(1241 892)"><rect x="-17.5" y="-17.5" width="35" height="35" rx="5"/><text><tspan x="0" y="-3.5">Ophiopogonanone</tspan><tspan x="0" y="11.5">A</tspan></text></g>
<g id="c-campesterol" class="c" transform="translate(828 955)"><rect x="-17.5" y="-17.5" width="35" height="35" rx="5"/><text y="4">Campesterol</text></g>
<g id="c-ophiopogonanoneE" class="c" transform="translate(1174 955)"><rect x="-17.5" y="-17.5" width="35" height="35" rx="5"/><text><tspan x="0" y="-3.5">Ophiopogonanone</tspan><tspan x="0" y="11.5">E</tspan></text></g>
<g id="c-stigmasterol" class="c" transform="translate(911 992)"><rect x="-17.5" y="-17.5" width="35" height="35" rx="5"/><text y="4">Stigmasterol</text></g>
<g id="c-methylB" class="c" transform="translate(1001 1007)"><rect x="-17.5" y="-17.5" width="35" height="35" rx="5"/><text><tspan x="0" y="-12">Methyl</tspan><tspan x="0" y="4">Ophiopogonanone</tspan><tspan x="0" y="20">B</tspan></text></g>
<g id="c-caffeicacid" class="c" transform="translate(1091 992)"><rect x="-17.5" y="-17.5" width="35" height="35" rx="5"/><text y="4">Caffeicacid</text></g>
</g>
<g id="hubs">
<g id="PMOP"><rect x="12" y="653" width="46" height="47" rx="6" fill="#5A56F8"/><text class="big" x="35" y="684">PMOP</text></g>
<g id="AvsB"><rect x="1954" y="629" width="47" height="47" rx="6" fill="#FFD400"/><text class="big" x="1978" y="660">AvsB</text></g>
<g id="herb-ophiopogon"><rect x="365" y="1497" width="46" height="46" rx="6" fill="#1EF07E"/><text class="herb" x="388" y="1514.5">Ophiopogon</text><text class="herb" x="388" y="1539.5">Japonicus</text></g>
<g id="herb-rehmannia"><rect x="728" y="1497" width="46" height="46" rx="6" fill="#1EF07E"/><text class="herb" x="751" y="1514.5">Rehmannia</text><text class="herb" x="751" y="1539.5">glutinosa</text></g>
<g id="herb-polygonatum"><rect x="1088" y="1497" width="46" height="46" rx="6" fill="#1EF07E"/><text class="herb" x="1111" y="1514.5">Polygonatum</text><text class="herb" x="1111" y="1539.5">Odoratum</text></g>
<g id="herb-glehnia"><rect x="1455" y="1497" width="46" height="46" rx="6" fill="#1EF07E"/><text class="herb" x="1478" y="1514.5">Glehnia</text><text class="herb" x="1478" y="1539.5">littoralis</text></g>
</g>
</svg>
